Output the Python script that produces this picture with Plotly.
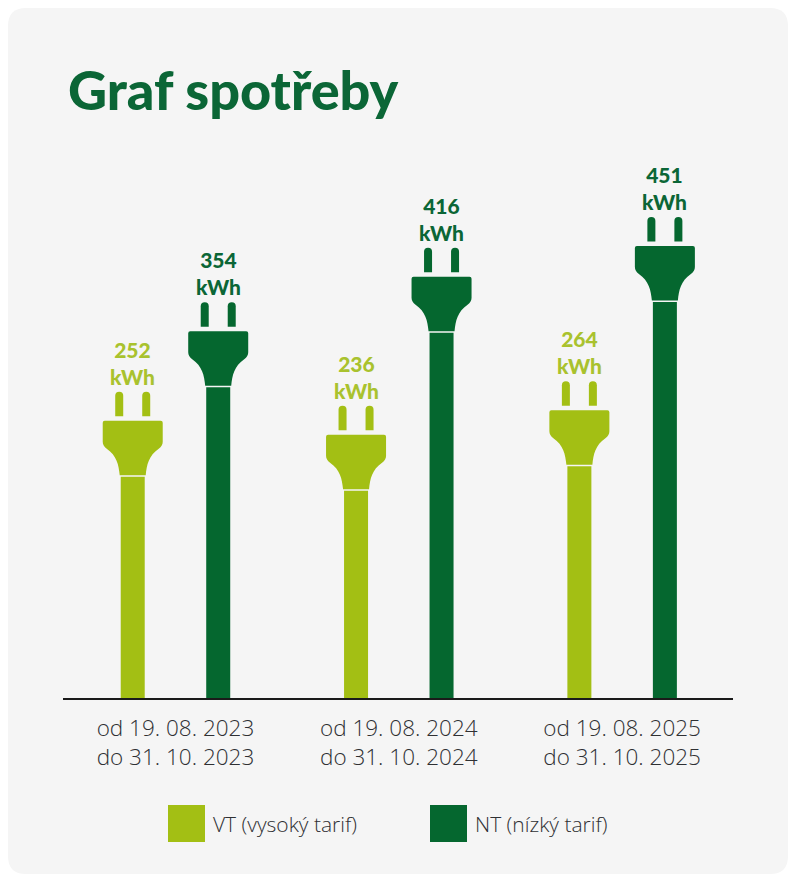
import plotly.graph_objects as go

# values
periods = [
    "od 19. 08. 2023<br>do 31. 10. 2023",
    "od 19. 08. 2024<br>do 31. 10. 2024",
    "od 19. 08. 2025<br>do 31. 10. 2025",
]
vt_kwh = [252, 236, 264]
nt_kwh = [354, 416, 451]

VT_COLOR = "#a3bf14"
NT_COLOR = "#05672f"
VT_TEXT = "#a9c22e"
NT_TEXT = "#0b6636"
CARD = "#f5f5f5"
DARK = "#2f3033"
FONT = "Lato"
LIGHT_FONT = "Open Sans"

W, H = 795, 884
BASE_Y = 698      # pixel row of the axis
PX_PER_KWH = 0.878
TOP_Y = 130
y_max = (BASE_Y - TOP_Y) / PX_PER_KWH


def fx(px):
    return px / W


def fy(px):
    return 1 - px / H


def card_path(x0, y0, x1, y1, r):
    return (
        f"M{fx(x0 + r)},{fy(y0)} L{fx(x1 - r)},{fy(y0)} Q{fx(x1)},{fy(y0)} {fx(x1)},{fy(y0 + r)} "
        f"L{fx(x1)},{fy(y1 - r)} Q{fx(x1)},{fy(y1)} {fx(x1 - r)},{fy(y1)} "
        f"L{fx(x0 + r)},{fy(y1)} Q{fx(x0)},{fy(y1)} {fx(x0)},{fy(y1 - r)} "
        f"L{fx(x0)},{fy(y0 + r)} Q{fx(x0)},{fy(y0)} {fx(x0 + r)},{fy(y0)} Z"
    )


# plug head and pins, in pixels around the top of the bar
HEAD_PATH = (
    "M-13,1.5 C-14,12 -16,21 -26,28 Q-30,31 -30,35 L-30,54 Q-30,56 -28,56 "
    "L28,56 Q30,56 30,54 L30,35 Q30,31 26,28 C16,21 14,12 13,1.5 Z"
)
PIN_PATHS = [
    "M-17.5,60.5 L-17.5,81 Q-17.5,85 -13.5,85 Q-9.5,85 -9.5,81 L-9.5,60.5 Z",
    "M9.5,60.5 L9.5,81 Q9.5,85 13.5,85 Q17.5,85 17.5,81 L17.5,60.5 Z",
]

fig = go.Figure()
x_pos = list(range(len(periods)))
fig.add_trace(go.Bar(x=x_pos, y=vt_kwh, name="VT (vysoký tarif)", marker=dict(color=VT_COLOR, line_width=0)))
fig.add_trace(go.Bar(x=x_pos, y=nt_kwh, name="NT (nízký tarif)", marker=dict(color=NT_COLOR, line_width=0)))

shapes = [dict(type="path", xref="paper", yref="paper", path=card_path(8, 8, 788, 874, 18),
               fillcolor=CARD, line_width=0, layer="below")]
annotations = []

unit_px = 670 / 3
slot = 85.5 / unit_px     # distance between the two bars of a group, in axis units
nudge = 0.8 / unit_px     # reference bars sit slightly right of the group centres


def add_plug(x, value, color, text_color):
    for path in [HEAD_PATH] + PIN_PATHS:
        shapes.append(dict(type="path", xref="x", yref="y", xsizemode="pixel", ysizemode="pixel",
                           xanchor=x, yanchor=value, path=path, fillcolor=color, line_width=0))
    annotations.append(dict(x=x, y=value, xref="x", yref="y", text=f"{value}<br>kWh",
                            showarrow=False, yanchor="bottom", yshift=86, align="center",
                            font=dict(family=FONT, size=21, color=text_color, weight=900)))


for i in x_pos:
    add_plug(i - slot / 2, vt_kwh[i], VT_COLOR, VT_TEXT)
    add_plug(i + slot / 2, nt_kwh[i], NT_COLOR, NT_TEXT)

# legend, drawn by hand because of the big swatches
legend_items = [(168, VT_COLOR, "VT (vysoký tarif)"), (430, NT_COLOR, "NT (nízký tarif)")]
for left, color, label in legend_items:
    shapes.append(dict(type="rect", xref="paper", yref="paper", x0=fx(left), x1=fx(left + 37),
                       y0=fy(842), y1=fy(805), fillcolor=color, line_width=0))
    annotations.append(dict(x=fx(left + 43), y=fy(823.5), xref="paper", yref="paper", text=label,
                            showarrow=False, xanchor="left", yanchor="middle",
                            font=dict(family=LIGHT_FONT, size=21, color=DARK, weight=300)))

fig.update_layout(
    width=W, height=H,
    margin=dict(l=0, r=0, t=0, b=0),
    paper_bgcolor="white", plot_bgcolor="rgba(0,0,0,0)",
    showlegend=False,
    barmode="group",
    bargap=1 - 2 * slot,
    bargroupgap=1 - 24 / 85.5,
    title=dict(text="Graf spotřeby", x=fx(68), y=fy(91), xanchor="left", yanchor="middle",
               font=dict(family=FONT, size=54, color=NT_TEXT, weight=900)),
    xaxis=dict(domain=[fx(63), fx(733)], range=[-0.5 - nudge, 2.5 - nudge], tickvals=x_pos, ticktext=periods,
               showgrid=False, zeroline=False, showline=True, linecolor="#1a1a1a", linewidth=2,
               ticks="", ticklabelstandoff=9, tickfont=dict(family=LIGHT_FONT, size=22.5, color=DARK, weight=300),
               fixedrange=True),
    yaxis=dict(domain=[fy(BASE_Y), fy(TOP_Y)], range=[0, y_max], visible=False, fixedrange=True),
    shapes=shapes,
    annotations=annotations,
)

fig.write_html("out.html", config={"displayModeBar": False},
               post_script="document.body.style.margin='0';")
